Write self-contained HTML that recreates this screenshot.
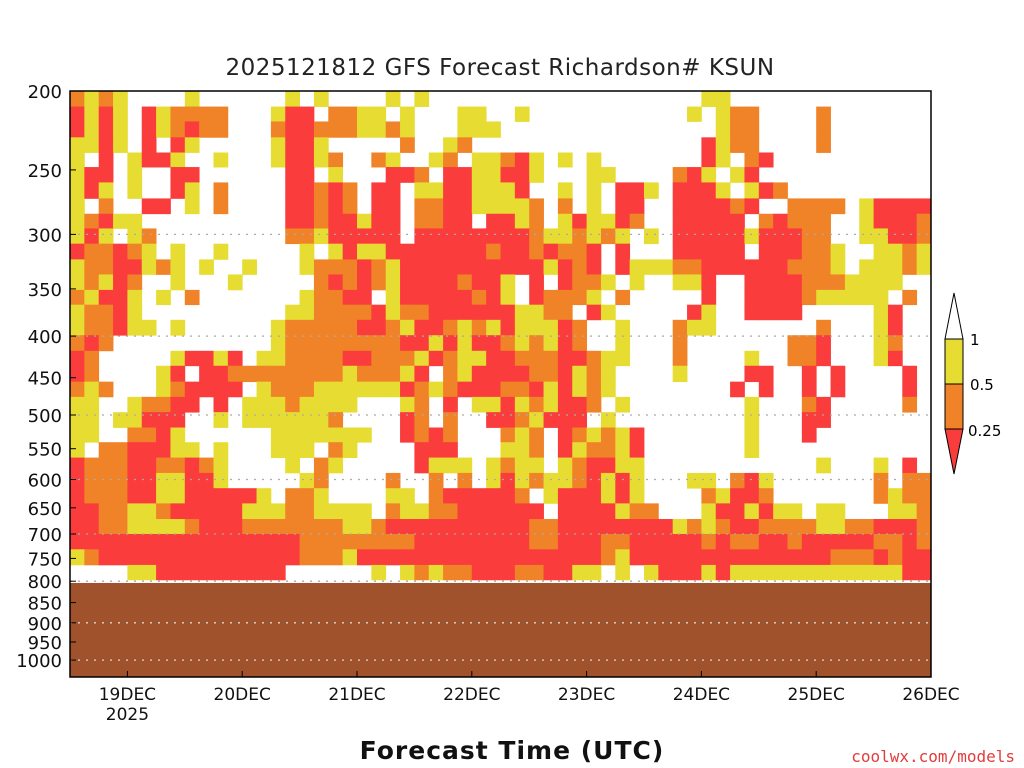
<!DOCTYPE html>
<html><head><meta charset="utf-8"><title>GFS Richardson KSUN</title>
<style>
html,body{margin:0;padding:0;background:#fff;}
svg{display:block;font-family:"DejaVu Sans","Liberation Sans",sans-serif;}
</style></head>
<body>
<svg id="chart" width="1024" height="768" viewBox="0 0 1024 768" xmlns="http://www.w3.org/2000/svg">
<rect x="0" y="0" width="1024" height="768" fill="#fff"/>
<text x="500" y="75" text-anchor="middle" font-size="23" fill="#222" letter-spacing="0.5">2025121812 GFS Forecast Richardson# KSUN</text>
<g id="cells"></g>
<g id="ground"></g>
<g id="grid"></g>
<rect x="70" y="91" width="861" height="586" fill="none" stroke="#000" stroke-width="1.5"/>
<g id="yaxis"></g>
<g id="xaxis"></g>
<text x="512" y="759" text-anchor="middle" font-size="25" font-weight="bold" fill="#111" letter-spacing="1">Forecast Time (UTC)</text>
<text x="1015" y="762" text-anchor="end" font-size="16" fill="#e23c3c" font-family="'DejaVu Sans Mono','Liberation Mono',monospace">coolwx.com/models</text>
<g>
<polygon points="954,293 945,339 963,339" fill="#fff" stroke="#000"/>
<rect x="945" y="339" width="18" height="45" fill="rgb(230,220,50)" stroke="#000"/>
<rect x="945" y="384" width="18" height="45" fill="rgb(240,130,40)" stroke="#000"/>
<polygon points="945,429 963,429 954,474" fill="rgb(250,60,60)" stroke="#000"/>
<text x="970" y="345" font-size="15">1</text>
<text x="970" y="390" font-size="15">0.5</text>
<text x="968" y="436" font-size="15">0.25</text>
</g>
</svg>
<script>
// Pressure-level boundaries (hPa) of the heatmap rows, top to bottom
const levels = [200,209,218,228,238,248,259,271,283,295,308,322,336,351,366,382,399,417,435,455,475,496,518,540,564,589,615,642,671,700,731,764,797];
// 3-hourly columns from 18DEC 12Z
const stepHours = 3;
// Richardson category per row: 0 >1 (white), 1 0.5-1 (yellow), 2 0.25-0.5 (orange), 3 <0.25 (red)
const rows = [
"212100001000000101000010100000000000000000001100000000000000",
"313103122220001330221101000110010000000000010122000020000000",
"313103123220002332221121000111000000000000000122000020000000",
"113103031000001331000002001200000000000000003122000020000000",
"103013310010001331200210012011231010100000003102300000000000",
"133010033000000330100033203311331000110000231013000000000000",
"131010031020000332320330113311130010103310333101320000000000",
"102003301020000332320330223311112020103300333323002222013333",
"123110000000000332331330223303312013113200333330232220013332",
"131012000000000221333330333333332112121010333331333220011332",
"322321010010000010131133333332332322303000333330333221001121",
"122331210100100012223213333333333132303111223333332221011121",
"121320010001000002323213333233103032210100113003333222111100",
"213310102000000012233013333323103222102000003003333211111020",
"122310000000000112222312233333311220310000031003333000001300",
"122311010000001222223321332121311132001000211000000020001300",
"232000000000001222222223313133212132001000200000002230001200",
"320000013313011222233222132113322233211000200001002230001300",
"320000130332222222212221302133332231210000100003300303000030",
"212000123333012221111113212333223131210000000030300303000030",
"110012233030111211110001203011312133201000000001000230000020",
"110113330010111111200003202003321333010000000001000330000000",
"110022310000001111111003232000212032121300000001000300000000",
"102233311010001110210000333000112031221300000001000000000000",
"322233223210000102100000311101211012331100000000000010001030",
"322233113310000012000020020201312112313100011023100000002022",
"322233113333310221000011023333320133313100002133200000002122",
"332211233333111221111021122333333033331220001331311011000112",
"332211112333222222211233333333332233333333121233222211223332",
"333333333333333322222222333333332233322333332322332333332232",
"123333333333333322213333333333333333321333333333333332223233",
"000011333333333000000101212233322331101013331311111111111133"
];
const X0 = 70, X1 = 931, Y0 = 91, Y1 = 677;
const HOURS_SPAN = 180;
function xScale(h){ return X0 + (X1 - X0) * h / HOURS_SPAN; }
function yScale(p){ return Y0 + 353.6 * Math.log(p / 200); }
const colors = ["#ffffff","rgb(230,220,50)","rgb(240,130,40)","rgb(250,60,60)"];
const NS = "http://www.w3.org/2000/svg";
const cells = document.getElementById('cells');
rows.forEach((row, r) => {
  const yTop = yScale(levels[r]), yBot = yScale(levels[r + 1]);
  for (let c = 0; c < row.length; c++) {
    const v = +row[c];
    if (!v) continue;
    const xa = xScale(c * stepHours), xb = xScale((c + 1) * stepHours);
    const el = document.createElementNS(NS, 'rect');
    
    
    el.setAttribute('x', xa.toFixed(2));
    el.setAttribute('y', yTop.toFixed(2));
    el.setAttribute('width', (xb - xa + 0.4).toFixed(2));
    el.setAttribute('height', (yBot - yTop + 0.4).toFixed(2));
    el.setAttribute('fill', colors[v]);
    cells.appendChild(el);
  }
});
// terrain (surface pressure ~ 800 hPa)
const surfaceP = 804;
const g = document.getElementById('ground');
const gr = document.createElementNS(NS, 'rect');


gr.setAttribute('x', X0); gr.setAttribute('y', yScale(surfaceP).toFixed(2));
gr.setAttribute('width', X1 - X0); gr.setAttribute('height', (Y1 - yScale(surfaceP)).toFixed(2));
gr.setAttribute('fill', '#a0522d');
g.appendChild(gr);
// grid lines
const gridLevels = [300,400,500,600,700,800,900,1000];
const grid = document.getElementById('grid');
gridLevels.forEach(p => {
  const ln = document.createElementNS(NS, 'line');
  
  
  const y = yScale(p).toFixed(1);
  ln.setAttribute('x1', X0); ln.setAttribute('x2', X1);
  ln.setAttribute('y1', y); ln.setAttribute('y2', y);
  ln.setAttribute('stroke', p > 800 ? '#d8d8d8' : '#aaaaaa');
  ln.setAttribute('stroke-width', '1.3');
  ln.setAttribute('stroke-dasharray', '2,6');
  grid.appendChild(ln);
});
// y axis ticks
const yTicks = [200,250,300,350,400,450,500,550,600,650,700,750,800,850,900,950,1000];
const ya = document.getElementById('yaxis');
yTicks.forEach(p => {
  const y = yScale(p);
  const t = document.createElementNS(NS, 'text');
  
  
  t.setAttribute('x', 62); t.setAttribute('y', (y + 7).toFixed(1));
  t.setAttribute('text-anchor', 'end'); t.setAttribute('font-size', '18');
  t.setAttribute('fill', '#111');
  t.textContent = p;
  ya.appendChild(t);
  const tk = document.createElementNS(NS, 'line');
  
  
  tk.setAttribute('x1', X0); tk.setAttribute('x2', X0 + 6);
  tk.setAttribute('y1', y.toFixed(1)); tk.setAttribute('y2', y.toFixed(1));
  tk.setAttribute('stroke', '#000');
  ya.appendChild(tk);
});
// x axis ticks
const xLabels = ["19DEC","20DEC","21DEC","22DEC","23DEC","24DEC","25DEC","26DEC"];
const xHours = [12,36,60,84,108,132,156,180];
const xa = document.getElementById('xaxis');
xLabels.forEach((lab, i) => {
  const x = xScale(xHours[i]);
  const t = document.createElementNS(NS, 'text');
  
  
  t.setAttribute('x', x.toFixed(1)); t.setAttribute('y', 700);
  t.setAttribute('text-anchor', 'middle'); t.setAttribute('font-size', '17');
  t.setAttribute('fill', '#111');
  t.textContent = lab;
  xa.appendChild(t);
  const tk = document.createElementNS(NS, 'line');
  
  
  tk.setAttribute('x1', x.toFixed(1)); tk.setAttribute('x2', x.toFixed(1));
  tk.setAttribute('y1', Y1); tk.setAttribute('y2', Y1 - 6);
  tk.setAttribute('stroke', '#000');
  xa.appendChild(tk);
});
const yr = document.createElementNS(NS, 'text');


yr.setAttribute('x', xScale(12).toFixed(1)); yr.setAttribute('y', 720);
yr.setAttribute('text-anchor', 'middle'); yr.setAttribute('font-size', '17');
yr.setAttribute('fill', '#111');
yr.textContent = '2025';
xa.appendChild(yr);
</script>
</body></html>
